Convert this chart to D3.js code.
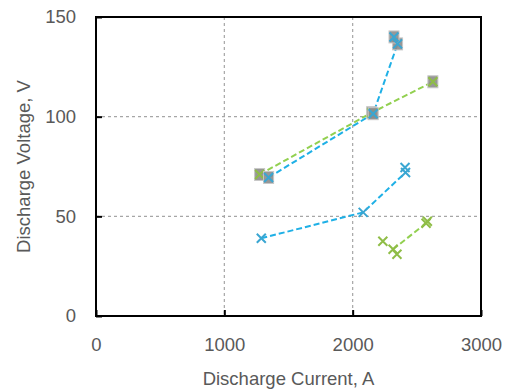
<!DOCTYPE html>
<html>
<head>
<meta charset="utf-8">
<script src="https://cdn.jsdelivr.net/npm/d3@7"></script>
<style>
  body { margin: 0; background: #fff; }
  text { font-family: "Liberation Sans", Arial, sans-serif; fill: #595959; }
</style>
</head>
<body>
<div id="chart"></div>
<script>
// Chart size
var width = 512;
var height = 390;
var margin = { top: 17, right: 31, bottom: 74, left: 96 };

// ticks
var xTicks = [0, 1000, 2000, 3000];
var yTicks = [0, 50, 100, 150];

// upper blue series (square + x markers)
var blueUpperCurrent = [1345, 2160, 2350, 2322];
var blueUpperVoltage = [69.5, 101.5, 136.5, 140];

// upper green series (square + x markers)
var greenUpperCurrent = [1275, 2148, 2625];
var greenUpperVoltage = [71, 102, 117.5];

// lower blue series (x markers)
var blueLowerCurrent = [1288, 2082, 2412, 2408];
var blueLowerVoltage = [39, 52, 72, 74.5];

// lower green series (x markers), first point not joined by the line
var greenLowerCurrent = [2235, 2315, 2345, 2572, 2582];
var greenLowerVoltage = [37.5, 33.5, 31, 46.5, 47.5];
var greenLowerLineCurrent = [2315, 2572];
var greenLowerLineVoltage = [33.5, 46.5];

var blue = "#1fb0e6";
var blueX = "#3aa6d2";
var green = "#92d050";
var greenX = "#8fbd47";

function zip(xs, ys) {
    return xs.map(function(x, i) { return { x: x, y: ys[i] }; });
}

var svg = d3.select("#chart")
    .append("svg")
    .attr("width", width)
    .attr("height", height);

var innerW = width - margin.left - margin.right;
var innerH = height - margin.top - margin.bottom;

var x = d3.scaleLinear().domain([0, 3000]).range([margin.left, margin.left + innerW]);
var y = d3.scaleLinear().domain([0, 150]).range([margin.top + innerH, margin.top]);

// gridlines
svg.append("g")
    .selectAll("line")
    .data(xTicks.slice(1, -1))
    .enter().append("line")
    .attr("x1", function(d) { return x(d); })
    .attr("x2", function(d) { return x(d); })
    .attr("y1", y(150))
    .attr("y2", y(0))
    .attr("stroke", "#a6a6a6")
    .attr("stroke-width", 1.2)
    .attr("stroke-dasharray", "3,3");

svg.append("g")
    .selectAll("line")
    .data(yTicks.slice(1, -1))
    .enter().append("line")
    .attr("x1", x(0))
    .attr("x2", x(3000))
    .attr("y1", function(d) { return y(d); })
    .attr("y2", function(d) { return y(d); })
    .attr("stroke", "#a6a6a6")
    .attr("stroke-width", 1.2)
    .attr("stroke-dasharray", "3,3");

// axes with inward ticks
var xAxis = svg.append("g")
    .attr("transform", "translate(0," + y(0) + ")")
    .call(d3.axisBottom(x).tickValues(xTicks).tickFormat(d3.format("d")).tickSize(-6).tickPadding(22));
var yAxis = svg.append("g")
    .attr("transform", "translate(" + x(0) + ",0)")
    .call(d3.axisLeft(y).tickValues(yTicks).tickFormat(d3.format("d")).tickSize(-6).tickPadding(20));

[xAxis, yAxis].forEach(function(a) {
    a.select(".domain").remove();
    a.selectAll("line").attr("stroke", "#000").attr("stroke-width", 2);
    a.selectAll("text").style("font-size", "18.5px").attr("fill", "#595959");
});

// frame
svg.append("rect")
    .attr("x", x(0))
    .attr("y", y(150))
    .attr("width", innerW)
    .attr("height", innerH)
    .attr("fill", "none")
    .attr("stroke", "#000")
    .attr("stroke-width", 2);

// axis titles
svg.append("text")
    .attr("x", x(0) + innerW / 2)
    .attr("y", 385)
    .attr("text-anchor", "middle")
    .style("font-size", "18.5px")
    .text("Discharge Current, A");

svg.append("text")
    .attr("transform", "translate(30," + (margin.top + innerH / 2) + ") rotate(-90)")
    .attr("text-anchor", "middle")
    .style("font-size", "18.5px")
    .text("Discharge Voltage, V");

var line = d3.line()
    .x(function(d) { return x(d.x); })
    .y(function(d) { return y(d.y); });

function drawLine(data, color) {
    svg.append("path")
        .datum(data)
        .attr("d", line)
        .attr("fill", "none")
        .attr("stroke", color)
        .attr("stroke-width", 2)
        .attr("stroke-dasharray", "6,3");
}

function drawSquares(data) {
    svg.append("g")
        .selectAll("rect")
        .data(data)
        .enter().append("rect")
        .attr("x", function(d) { return x(d.x) - 5; })
        .attr("y", function(d) { return y(d.y) - 6; })
        .attr("width", 10)
        .attr("height", 12)
        .attr("fill", "#8c8c8c")
        .attr("fill-opacity", 0.9)
        .attr("stroke", "#c8c8c8")
        .attr("stroke-width", 1);
}

function drawCrosses(data, color) {
    var s = 4.5;
    svg.append("g")
        .selectAll("path")
        .data(data)
        .enter().append("path")
        .attr("d", function(d) {
            var cx = x(d.x), cy = y(d.y);
            return "M" + (cx - s) + "," + (cy - s) + "L" + (cx + s) + "," + (cy + s) +
                   "M" + (cx - s) + "," + (cy + s) + "L" + (cx + s) + "," + (cy - s);
        })
        .attr("stroke", color)
        .attr("stroke-width", 2)
        .attr("fill", "none");
}

var greenUpper = zip(greenUpperCurrent, greenUpperVoltage);
var blueUpper = zip(blueUpperCurrent, blueUpperVoltage);
var blueLower = zip(blueLowerCurrent, blueLowerVoltage);
var greenLower = zip(greenLowerCurrent, greenLowerVoltage);

drawLine(greenUpper, green);
drawLine(blueUpper, blue);
drawLine(blueLower.slice(0, 3), blue);
drawLine(zip(greenLowerLineCurrent, greenLowerLineVoltage), green);

drawSquares(greenUpper);
drawCrosses(greenUpper, greenX);
drawSquares(blueUpper);
drawCrosses(blueUpper, blueX);
drawCrosses(blueLower, blueX);
drawCrosses(greenLower, greenX);
</script>
</body>
</html>
